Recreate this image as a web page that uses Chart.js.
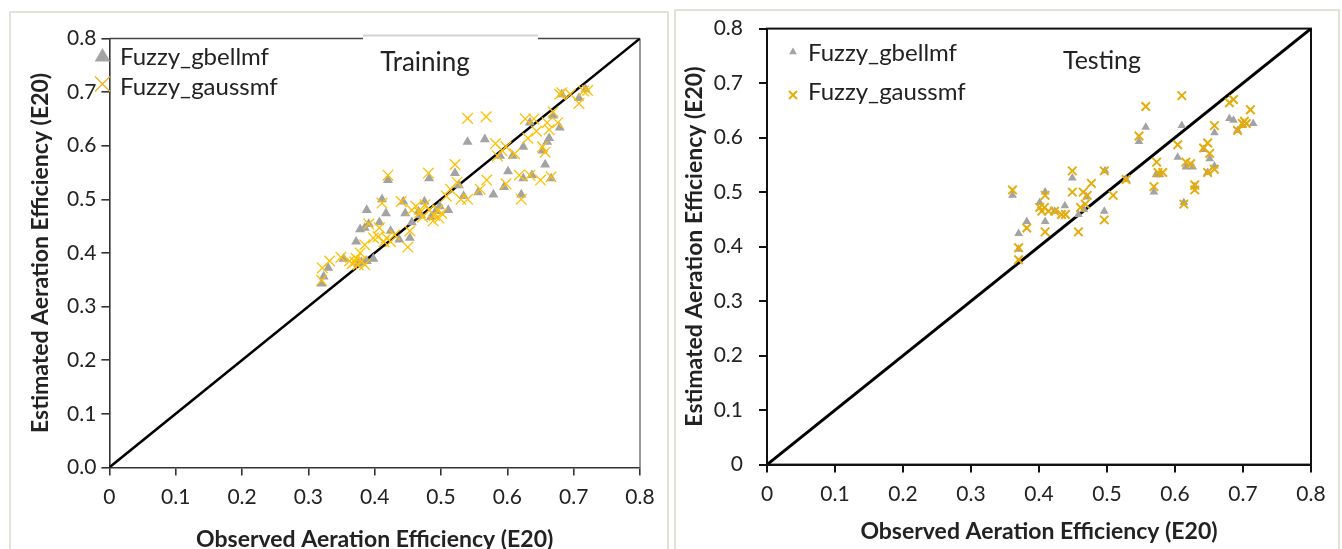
<!DOCTYPE html>
<html lang="en">
  <head>
    <meta charset="UTF-8" />
    <title>Observed vs Estimated Aeration Efficiency</title>
    <script src="https://cdn.jsdelivr.net/npm/chart.js"></script>
    <style>
      html, body { margin: 0; padding: 0; background: #fff; width: 1342px; height: 549px; overflow: hidden; }
      .panel { position: absolute; border: 2px solid #e4e2d8; box-sizing: border-box; }
      canvas { position: absolute; top: 0; }
    </style>
  </head>
  <body>
    <div class="panel" style="left:9px; top:11px; width:660px; height:560px;"></div>
    <div class="panel" style="left:674px; top:9px; width:666px; height:560px;"></div>
    <canvas id="trainChart" width="671" height="565" style="left:0px;"></canvas>
    <canvas id="testChart" width="670" height="565" style="left:672px;"></canvas>
    <script>
      // tick labels
      const xTickLabels = ["0", "0.1", "0.2", "0.3", "0.4", "0.5", "0.6", "0.7", "0.8"];
      const yTickLabelsTrain = ["0.0", "0.1", "0.2", "0.3", "0.4", "0.5", "0.6", "0.7", "0.8"];
      const yTickLabelsTest = ["0", "0.1", "0.2", "0.3", "0.4", "0.5", "0.6", "0.7", "0.8"];
      const seriesNames = ["Fuzzy_gbellmf", "Fuzzy_gaussmf"];
      const lineOfEquality = [0, 0.8];

      // Training - gbellmf
      const trainGbellObs = [0.320, 0.323, 0.330, 0.353, 0.372, 0.378, 0.385, 0.388, 0.391, 0.388, 0.398, 0.407, 0.411, 0.417, 0.420, 0.424, 0.437, 0.443, 0.446, 0.453, 0.456, 0.466, 0.475, 0.482, 0.485, 0.498, 0.511, 0.521, 0.527, 0.534, 0.540, 0.556, 0.566, 0.579, 0.589, 0.595, 0.601, 0.608, 0.621, 0.624, 0.624, 0.634, 0.637, 0.653, 0.657, 0.660, 0.663, 0.666, 0.669, 0.679, 0.682, 0.708, 0.718, 0.375, 0.380, 0.470, 0.492];
      const trainGbellEst = [0.343, 0.356, 0.372, 0.389, 0.421, 0.444, 0.447, 0.480, 0.454, 0.385, 0.389, 0.457, 0.500, 0.474, 0.536, 0.441, 0.425, 0.496, 0.474, 0.428, 0.457, 0.477, 0.496, 0.539, 0.467, 0.487, 0.480, 0.549, 0.526, 0.506, 0.607, 0.513, 0.612, 0.509, 0.581, 0.523, 0.552, 0.581, 0.509, 0.598, 0.539, 0.643, 0.545, 0.591, 0.565, 0.607, 0.614, 0.539, 0.656, 0.634, 0.696, 0.689, 0.705, 0.380, 0.383, 0.470, 0.478];

      // Training - gaussmf
      const trainGaussObs = [0.320, 0.321, 0.332, 0.349, 0.362, 0.366, 0.370, 0.375, 0.380, 0.372, 0.385, 0.378, 0.385, 0.391, 0.398, 0.407, 0.411, 0.420, 0.414, 0.424, 0.430, 0.440, 0.450, 0.453, 0.456, 0.462, 0.472, 0.481, 0.482, 0.488, 0.495, 0.501, 0.508, 0.514, 0.521, 0.524, 0.530, 0.540, 0.540, 0.559, 0.568, 0.569, 0.582, 0.585, 0.592, 0.598, 0.598, 0.611, 0.618, 0.621, 0.627, 0.631, 0.634, 0.640, 0.644, 0.650, 0.653, 0.657, 0.660, 0.663, 0.669, 0.666, 0.676, 0.679, 0.682, 0.695, 0.708, 0.715, 0.721, 0.468, 0.476, 0.490, 0.497, 0.405, 0.418];
      const trainGaussEst = [0.349, 0.372, 0.385, 0.392, 0.385, 0.380, 0.383, 0.378, 0.385, 0.390, 0.378, 0.400, 0.415, 0.454, 0.428, 0.447, 0.493, 0.545, 0.421, 0.421, 0.434, 0.496, 0.411, 0.441, 0.480, 0.487, 0.467, 0.549, 0.480, 0.460, 0.480, 0.474, 0.506, 0.519, 0.565, 0.532, 0.500, 0.651, 0.500, 0.519, 0.654, 0.536, 0.604, 0.581, 0.591, 0.598, 0.529, 0.585, 0.545, 0.500, 0.650, 0.614, 0.545, 0.650, 0.627, 0.536, 0.598, 0.588, 0.643, 0.630, 0.663, 0.542, 0.643, 0.696, 0.699, 0.696, 0.679, 0.702, 0.703, 0.475, 0.490, 0.470, 0.465, 0.430, 0.428];

      // Testing - gbellmf
      const testGbellObs = [0.361, 0.370, 0.370, 0.382, 0.401, 0.409, 0.409, 0.423, 0.438, 0.449, 0.458, 0.466, 0.470, 0.496, 0.497, 0.528, 0.547, 0.557, 0.569, 0.572, 0.578, 0.604, 0.610, 0.613, 0.616, 0.626, 0.629, 0.642, 0.648, 0.651, 0.658, 0.658, 0.680, 0.686, 0.692, 0.699, 0.715];
      const testGbellEst = [0.494, 0.424, 0.395, 0.446, 0.481, 0.500, 0.446, 0.465, 0.475, 0.526, 0.459, 0.468, 0.491, 0.465, 0.539, 0.523, 0.593, 0.619, 0.500, 0.532, 0.532, 0.564, 0.622, 0.481, 0.546, 0.546, 0.510, 0.578, 0.536, 0.561, 0.609, 0.548, 0.635, 0.632, 0.613, 0.622, 0.626];

      // Testing - gaussmf
      const testGaussObs = [0.361, 0.370, 0.370, 0.382, 0.401, 0.404, 0.408, 0.409, 0.409, 0.414, 0.423, 0.433, 0.439, 0.449, 0.449, 0.458, 0.461, 0.465, 0.468, 0.471, 0.477, 0.496, 0.496, 0.509, 0.528, 0.547, 0.557, 0.569, 0.573, 0.575, 0.582, 0.604, 0.610, 0.613, 0.616, 0.623, 0.629, 0.629, 0.642, 0.648, 0.648, 0.651, 0.658, 0.658, 0.680, 0.686, 0.692, 0.699, 0.702, 0.705, 0.711];
      const testGaussEst = [0.504, 0.398, 0.376, 0.434, 0.472, 0.465, 0.472, 0.494, 0.427, 0.465, 0.465, 0.459, 0.459, 0.539, 0.500, 0.427, 0.472, 0.500, 0.478, 0.494, 0.516, 0.539, 0.449, 0.494, 0.523, 0.603, 0.657, 0.510, 0.555, 0.536, 0.536, 0.587, 0.677, 0.478, 0.555, 0.552, 0.504, 0.513, 0.581, 0.590, 0.536, 0.571, 0.622, 0.542, 0.664, 0.670, 0.613, 0.626, 0.630, 0.626, 0.651];

      const FONT = "Lato";
      const INK = "#222";

      function toPoints(xs, ys) {
        return xs.map((x, i) => ({ x: x, y: ys[i] }));
      }

      function drawTri(ctx, x, y, r, color) {
        ctx.beginPath();
        ctx.moveTo(x, y - r);
        ctx.lineTo(x + r * 0.866, y + r * 0.5);
        ctx.lineTo(x - r * 0.866, y + r * 0.5);
        ctx.closePath();
        ctx.fillStyle = color;
        ctx.fill();
      }
      function drawX(ctx, x, y, h, color, w) {
        ctx.beginPath();
        ctx.moveTo(x - h, y - h); ctx.lineTo(x + h, y + h);
        ctx.moveTo(x + h, y - h); ctx.lineTo(x - h, y + h);
        ctx.strokeStyle = color;
        ctx.lineWidth = w;
        ctx.stroke();
      }

      // frame, inner title and legend
      const panelDecor = {
        id: "panelDecor",
        beforeDatasetsDraw(chart, args, o) {
          const { ctx, chartArea: a } = chart;
          ctx.save();
          if (o.fullBox) {
            ctx.strokeStyle = "#111";
            ctx.lineWidth = 2;
            ctx.strokeRect(a.left, a.top, a.right - a.left, a.bottom - a.top);
          } else {
            ctx.strokeStyle = "#444";
            ctx.lineWidth = 1.5;
            ctx.beginPath();
            ctx.moveTo(a.left, a.top); ctx.lineTo(o.gap[0], a.top);
            ctx.moveTo(o.gap[1], a.top); ctx.lineTo(a.right, a.top);
            ctx.stroke();
            ctx.strokeStyle = "#d4d4d4";
            ctx.lineWidth = 2;
            ctx.beginPath();
            ctx.moveTo(o.gap[0], a.top - 3); ctx.lineTo(o.gap[1], a.top - 3);
            ctx.stroke();
            ctx.strokeStyle = "#777";
            ctx.lineWidth = 1.5;
            ctx.beginPath();
            ctx.moveTo(a.right, a.top); ctx.lineTo(a.right, a.bottom);
            ctx.stroke();
          }
          ctx.restore();
        },
        afterDraw(chart, args, o) {
          const { ctx } = chart;
          ctx.save();
          ctx.fillStyle = INK;
          ctx.textBaseline = "middle";
          ctx.textAlign = "center";
          ctx.font = o.titleSize + "px " + FONT;
          ctx.fillText(o.title, o.titlePos[0], o.titlePos[1]);
          ctx.textAlign = "left";
          ctx.font = "24px " + FONT;
          const L = o.legend;
          drawTri(ctx, L.mx, L.y1, L.triR, "#a3a3a3");
          drawX(ctx, L.mx, L.y2, L.xH, o.xColor, L.xW);
          ctx.fillStyle = INK;
          ctx.fillText(seriesNames[0], L.tx, L.t1);
          ctx.fillText(seriesNames[1], L.tx, L.t2);
          ctx.restore();
        }
      };

      function makeChart(id, cfg) {
        const axisCommon = (labels, pad) => ({
          type: "linear",
          min: 0,
          max: 0.8,
          grid: { display: true, drawOnChartArea: false, drawTicks: true, tickLength: 8, color: cfg.axisColor, lineWidth: cfg.axisWidth },
          border: { display: true, color: cfg.axisColor, width: cfg.axisWidth },
          ticks: {
            stepSize: 0.1,
            padding: pad,
            color: INK,
            font: { family: FONT, size: 21 },
            callback: (v, i) => labels[i]
          }
        });
        const xScale = axisCommon(xTickLabels, 9);
        xScale.title = { display: true, text: "Observed Aeration Efficiency (E20)", color: INK, font: { family: FONT, size: 23, weight: "bold" }, padding: { top: 0, bottom: cfg.xTitlePad } };
        xScale.afterFit = (s) => { s.height = cfg.xAxisH; };
        const yScale = axisCommon(cfg.yLabels, cfg.yTickPad);
        yScale.title = { display: true, text: "Estimated Aeration Efficiency (E20)", color: INK, font: { family: FONT, size: 23, weight: "bold" }, padding: { top: cfg.yTitlePad, bottom: 0 } };
        yScale.afterFit = (s) => { s.width = cfg.yAxisW; };

        return new Chart(document.getElementById(id), {
          type: "scatter",
          data: {
            datasets: [
              {
                label: seriesNames[1],
                data: toPoints(cfg.gaussObs, cfg.gaussEst),
                pointStyle: "crossRot",
                pointRadius: cfg.xRadius,
                borderColor: cfg.xColor,
                borderWidth: cfg.xWidth,
                order: 1
              },
              {
                label: seriesNames[0],
                data: toPoints(cfg.gbellObs, cfg.gbellEst),
                pointStyle: "triangle",
                pointRadius: cfg.triRadius,
                backgroundColor: "#a3a3a3",
                borderWidth: 0,
                order: 2
              },
              {
                label: "1:1",
                data: toPoints(lineOfEquality, lineOfEquality),
                showLine: true,
                borderColor: "#000",
                borderWidth: cfg.lineWidth,
                pointRadius: 0,
                order: 3
              }
            ]
          },
          options: {
            responsive: false,
            animation: false,
            devicePixelRatio: 1,
            layout: { padding: { left: 0, top: cfg.top, right: cfg.right, bottom: 0 } },
            scales: { x: xScale, y: yScale },
            plugins: {
              legend: { display: false },
              tooltip: { enabled: false },
              panelDecor: cfg.decor
            }
          },
          plugins: [panelDecor]
        });
      }

      makeChart("trainChart", {
        gbellObs: trainGbellObs, gbellEst: trainGbellEst,
        gaussObs: trainGaussObs, gaussEst: trainGaussEst,
        yLabels: yTickLabelsTrain,
        top: 38.5, right: 31, yAxisW: 109.4, xAxisH: 97.6,
        yTickPad: 5, xTitlePad: 12, yTitlePad: 27,
        axisColor: "#333", axisWidth: 1.6, lineWidth: 2.5,
        xColor: "#FFC000", xRadius: 7.5, xWidth: 1.3, triRadius: 5.8,
        decor: {
          fullBox: false, gap: [363, 538], xColor: "#E8B420",
          title: "Training", titleSize: 26, titlePos: [425, 63],
          legend: { mx: 102.5, y1: 57, y2: 84, triR: 9, xH: 7.5, xW: 1.3, tx: 120, t1: 57, t2: 87 }
        }
      });

      makeChart("testChart", {
        gbellObs: testGbellObs, gbellEst: testGbellEst,
        gaussObs: testGaussObs, gaussEst: testGaussEst,
        yLabels: yTickLabelsTest,
        top: 27, right: 31, yAxisW: 95, xAxisH: 100.4,
        yTickPad: 16, xTitlePad: 20, yTitlePad: 9,
        axisColor: "#111", axisWidth: 2, lineWidth: 3,
        xColor: "#E6AC0A", xRadius: 6, xWidth: 2, triRadius: 5,
        decor: {
          fullBox: true, xColor: "#E6AC0A",
          title: "Testing", titleSize: 25, titlePos: [430, 61],
          legend: { mx: 121, y1: 52, y2: 95, triR: 4.5, xH: 4, xW: 2, tx: 136, t1: 53, t2: 92 }
        }
      });
    </script>
  </body>
</html>
